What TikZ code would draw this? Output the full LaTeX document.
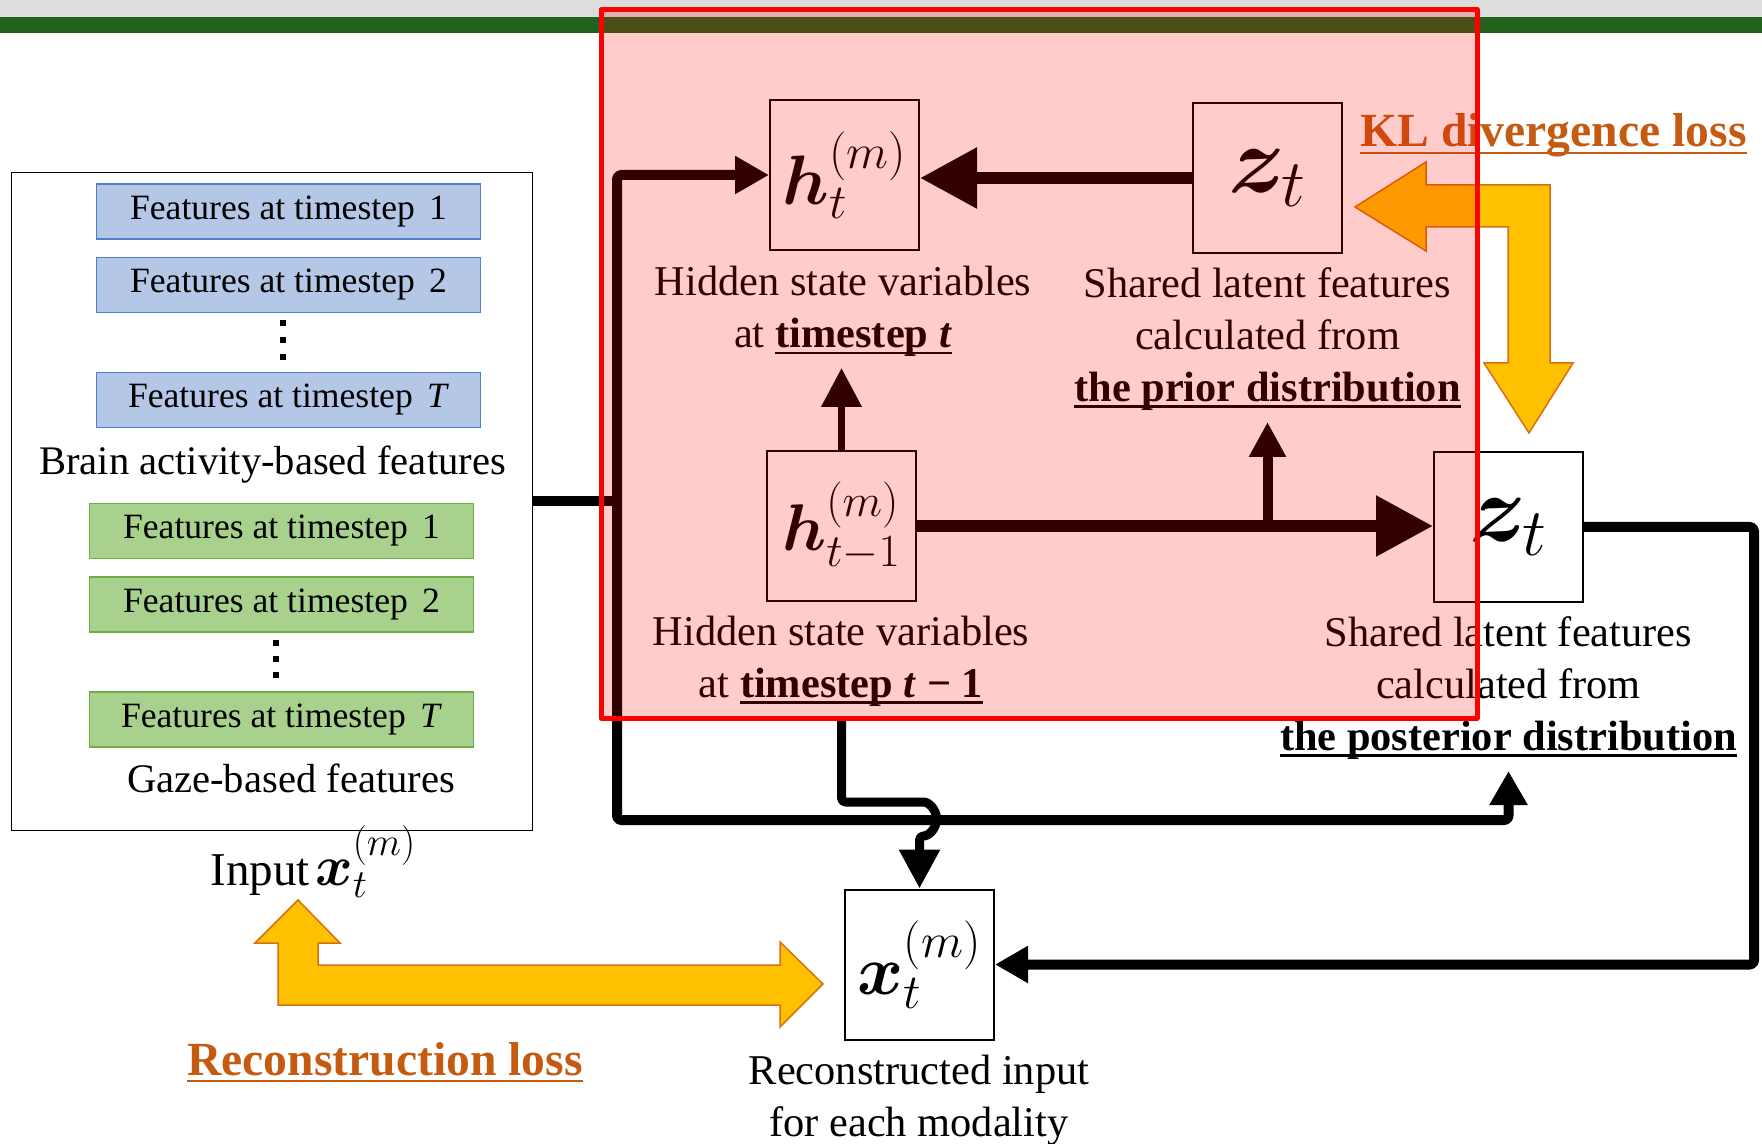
\RequirePackage{fix-cm}
\documentclass[tikz,border=0pt]{standalone}
\usepackage{amsmath}
\usepackage[no-math]{fontspec}
\setmainfont{Liberation Serif}
\usepackage{bm}
\usetikzlibrary{arrows.meta}

\definecolor{topgray}{RGB}{221,221,221}
\definecolor{topgreen}{RGB}{33,97,30}
\definecolor{bluefill}{RGB}{180,199,231}
\definecolor{blueedge}{RGB}{80,128,200}
\definecolor{greenfill}{RGB}{169,209,142}
\definecolor{greenedge}{RGB}{112,173,71}
\definecolor{lossyellow}{RGB}{255,192,0}
\definecolor{lossedge}{RGB}{214,112,20}
\definecolor{losstext}{RGB}{197,90,17}

% underline sitting just below the baseline
\newcommand{\undl}[1]{\setbox0=\hbox{#1}\rlap{\rule[-0.15em]{\wd0}{0.055em}}\box0}

\tikzset{
  unit/.style={draw=black, line width=1pt, fill=white, inner sep=0pt,
    minimum width=74.5pt, minimum height=75pt},
  hfont/.style={font=\fontsize{35}{42}\selectfont},
  hpfont/.style={font=\fontsize{33}{40}\selectfont},
  zfont/.style={font=\fontsize{48}{56}\selectfont},
  lbl/.style={align=center, inner sep=0pt, font=\fontsize{21.2}{26}\selectfont},
  feat/.style={minimum width=192pt, minimum height=27.5pt, inner sep=0pt,
    line width=0.75pt, font=\fontsize{17.8}{20}\selectfont},
  bluefeat/.style={feat, draw=blueedge, fill=bluefill},
  greenfeat/.style={feat, draw=greenedge, fill=greenfill},
  grouplbl/.style={inner sep=0pt, font=\fontsize{20.3}{24}\selectfont},
  losslbl/.style={inner sep=0pt, text=losstext, font=\fontsize{23.8}{28}\selectfont\bfseries},
  conn/.style={draw=black, line width=5pt, line join=round, rounded corners=2pt},
  blockarrow/.style={fill=lossyellow, draw=lossedge, line width=0.75pt},
  bigtip/.tip={Triangle[length=28.5pt,width=29pt]},
  smalltip/.tip={Triangle[length=17pt,width=18pt]},
  midtip/.tip={Triangle[length=19.5pt,width=19.5pt]},
}

\begin{document}
\begin{tikzpicture}[x=0.5pt,y=-0.5pt]
\useasboundingbox (0,0) rectangle (1762,1144);

% header bars
\fill[topgray] (0,0) rectangle (1762,17);
\fill[topgreen] (0,17) rectangle (1762,33);

% input features
\node[draw=black, line width=0.75pt, minimum width=260.5pt, minimum height=329pt,
  inner sep=0pt] (inbox) at (272,501.5) {};
\node[bluefeat] (b1) at (288.5,211.5) {Features at timestep\hspace{0.4em}1};
\node[bluefeat] (b2) at (288.5,285) {Features at timestep\hspace{0.4em}2};
\node[bluefeat] (bT) at (288.5,400) {Features at timestep\hspace{0.4em}\textit{T}};
\foreach \y in {323,340,357} \fill (280.3,\y-2.7) rectangle (285.8,\y+2.7);
\node[grouplbl, anchor=base] (brainlab) at (272.5,475) {Brain activity-based features};
\node[greenfeat] (g1) at (281.5,531) {Features at timestep\hspace{0.4em}1};
\node[greenfeat] (g2) at (281.5,604.5) {Features at timestep\hspace{0.4em}2};
\node[greenfeat] (gT) at (281.5,719.5) {Features at timestep\hspace{0.4em}\textit{T}};
\foreach \y in {643,659,675} \fill (273.3,\y-2.7) rectangle (278.8,\y+2.7);
\node[grouplbl, anchor=base] (gazelab) at (291,792) {Gaze-based features};
\node[inner sep=0pt, anchor=base west, font=\fontsize{23.5}{28}\selectfont] (inlab)
  at (210,885) {Input\hspace{0.12em}{\fontsize{28.5}{34}\selectfont$\bm{x}_t^{(m)}$}};

% loss arrows
\draw[blockarrow] (1355,207) -- (1426,162) -- (1426,185) -- (1550,185) -- (1550,363)
  -- (1573,363) -- (1529,433) -- (1484,363) -- (1508,363) -- (1508,227)
  -- (1426,227) -- (1426,251) -- cycle;
\draw[blockarrow] (298,900) -- (340,943) -- (318,943) -- (318,965) -- (780,965)
  -- (780,942) -- (823,984) -- (780,1027) -- (780,1005) -- (278,1005)
  -- (278,943) -- (255,943) -- cycle;

% model units
\node[unit, hfont] (ht) at (844.5,175) {$\bm{h}_t^{(m)}$};
\node[unit, zfont] (zprior) at (1267.5,178) {$\bm{z}_t$};
\node[unit, hpfont] (hprev) at (841.5,526) {$\bm{h}_{t-1}^{(m)}$};
\node[unit, zfont] (zpost) at (1508.5,527) {$\bm{z}_t$};
\node[unit, hfont] (xrec) at (919.5,964.5) {$\bm{x}_t^{(m)}$};

% connector end points
\coordinate (jtop) at (617,175);
\coordinate (jbot) at (617,820);
\coordinate (ptip) at (1508.5,771);
\coordinate (gtip) at (1267.5,422);
\coordinate (htip) at (841.5,368);
\coordinate (hop) at (919.5,802);
\coordinate (rc) at (1754,527);

% connectors
\draw[conn] (inbox.east) -- (inbox.east -| jtop);
\draw[conn, smalltip-smalltip] (ht.west) -- (jtop) -- (jbot) -- (ptip |- jbot) -- (ptip);
\draw[conn, line width=6pt, -bigtip] (zprior.west) -- (zprior.west -| ht.east);
\draw[conn, line width=6pt, -bigtip] (hprev.east) -- (hprev.east -| zpost.west);
\draw[conn, -{Triangle[length=17.5pt,width=17.5pt]}] (zprior.south |- hprev.east) -- (gtip);
\draw[conn, line width=3.75pt, -midtip] (hprev.north) -- (htip);
\draw[conn, line width=4.5pt, -midtip] ([yshift=-1.5pt]hprev.south) -- (hprev.south |- hop) -- (hop)
  arc[start angle=90, end angle=-90, radius=8.5pt] -- (xrec.north);
\draw[conn, -{Triangle[length=16.5pt,width=17.5pt]}] (zpost.east) -- (rc)
  -- (rc |- xrec.east) -- (xrec.east);

% labels
\node[lbl, anchor=north] (htlab) at (843,266)
  {Hidden state variables\\at \undl{\textbf{timestep \textit{t}}}};
\node[lbl, anchor=north] (zprlab) at (1267.5,267)
  {Shared latent features\\calculated from\\\undl{\textbf{the prior distribution}}};
\node[lbl, anchor=north, fill=white] (hplab) at (841,604)
  {\rule{0pt}{20.5pt}Hidden state variables\\at \undl{\textbf{timestep \textit{t} − 1}}\rule[-10pt]{0pt}{10pt}};
\node[lbl, anchor=north] (zpolab) at (1508.5,616)
  {Shared latent features\\calculated from\\\undl{\textbf{the posterior distribution}}};
\node[lbl, anchor=north] (xlab) at (919,1055)
  {Reconstructed input\\for each modality};
\node[losslbl, anchor=base] (kllab) at (1553.5,147) {\undl{KL divergence loss}};
\node[losslbl, anchor=base] (reclab) at (385,1075) {\undl{Reconstruction loss}};

% highlighted region
\fill[red, fill opacity=0.2] (601,9.5) rectangle (1477,718);
\draw[red, line width=2.5pt, line join=round] (601,9.5) rectangle (1477,718);
\end{tikzpicture}
\end{document}
